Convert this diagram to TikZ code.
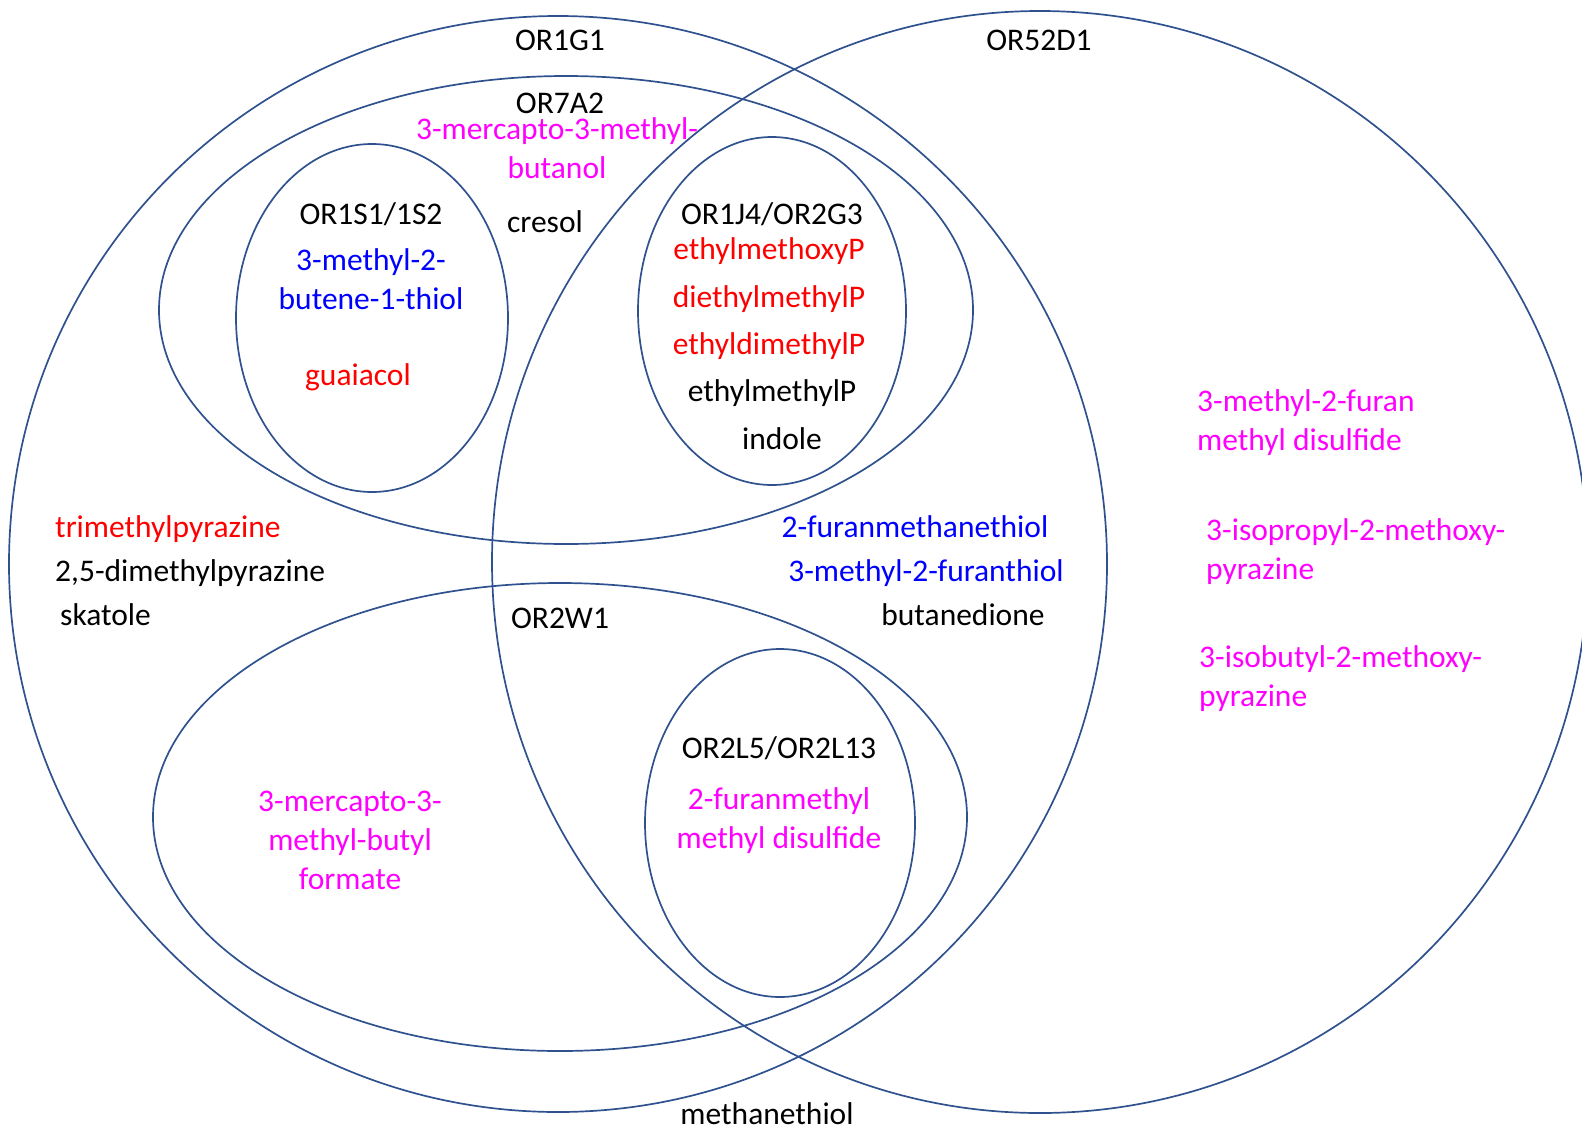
\documentclass[tikz,border=0pt]{standalone}
\usepackage{fontspec}
\setmainfont{Carlito}
\usepackage{xcolor}
\usetikzlibrary{positioning}

\definecolor{ringblue}{RGB}{47,82,143}
\definecolor{odmag}{RGB}{255,0,255}
\definecolor{odred}{RGB}{255,0,0}
\definecolor{odblue}{RGB}{0,0,255}

\tikzset{
  ring/.style={draw=ringblue, line width=1.7pt},
  lbl/.style={anchor=base, inner sep=0pt, align=center,
    font=\fontsize{31.5}{39}\selectfont},
  lblw/.style={lbl, anchor=base west, align=left}
}

\begin{document}
\begin{tikzpicture}[x=1pt,y=-1pt]
  \useasboundingbox (0,0) rectangle (1582,1130);

  % receptor sets
  \draw[ring] (558,564) ellipse [x radius=549, y radius=548];   % OR1G1
  \draw[ring] (1040,562) ellipse [x radius=548, y radius=551];  % OR52D1
  \draw[ring] (566,310) ellipse [x radius=407, y radius=234];   % OR7A2
  \draw[ring] (372,318) ellipse [x radius=136, y radius=174];   % OR1S1/1S2
  \draw[ring] (772,311) ellipse [x radius=134, y radius=174];   % OR1J4/OR2G3
  \draw[ring] (560,817) ellipse [x radius=407, y radius=234];   % OR2W1
  \draw[ring] (780,823) ellipse [x radius=135, y radius=174];   % OR2L5/OR2L13

  % receptor names
  \node[lbl] (g1)   at (560,50)   {OR1G1};
  \node[lbl] (d1)   at (1039,50)  {OR52D1};
  \node[lbl] (a2)   at (560,113)  {OR7A2};
  \node[lbl] (s1)   at (371,224)  {OR1S1/1S2};
  \node[lbl] (j4)   at (772,224)  {OR1J4/OR2G3};
  \node[lbl] (w1)   at (560,628)  {OR2W1};
  \node[lbl] (l5)   at (779,758)  {OR2L5/OR2L13};

  % odorants (base = last line)
  \node[lbl, odmag] (mmb)  at (557,178) {3-mercapto-3-methyl-\\butanol};
  \node[lbl] (cres) at (545,232) {cresol};
  \node[lbl, odblue] (mbt) at (371,309) {3-methyl-2-\\butene-1-thiol};
  \node[lbl, odred] (guai) at (358,385) {guaiacol};

  \node[lbl, odred] (emp)  at (769,259) {ethylmethoxyP};
  \node[lbl, odred] (dep)  at (769,307) {diethylmethylP};
  \node[lbl, odred] (edp)  at (769,354) {ethyldimethylP};
  \node[lbl] (emlp) at (772,401) {ethylmethylP};
  \node[lbl] (ind)  at (782,449) {indole};

  \node[lblw, odred] (tmp) at (55,537) {trimethylpyrazine};
  \node[lblw] (dmp)  at (55,581) {2,5-dimethylpyrazine};
  \node[lblw] (skat) at (60,625) {skatole};

  \node[lbl, odblue] (fmt) at (915,537) {2-furanmethanethiol};
  \node[lbl, odblue] (mft) at (926,581) {3-methyl-2-furanthiol};
  \node[lbl] (btd)  at (963,625) {butanedione};

  \node[lblw, odmag] (mfd) at (1197,450) {3-methyl-2-furan\\methyl disulfide};
  \node[lblw, odmag] (ipp) at (1206,579) {3-isopropyl-2-methoxy-\\pyrazine};
  \node[lblw, odmag] (ibp) at (1199,706) {3-isobutyl-2-methoxy-\\pyrazine};

  \node[lbl, odmag] (fmd) at (779,848) {2-furanmethyl\\methyl disulfide};
  \node[lbl, odmag] (mbf) at (350,889) {3-mercapto-3-\\methyl-butyl\\formate};

  \node[lbl] (mth) at (767,1124) {methanethiol};
\end{tikzpicture}
\end{document}
